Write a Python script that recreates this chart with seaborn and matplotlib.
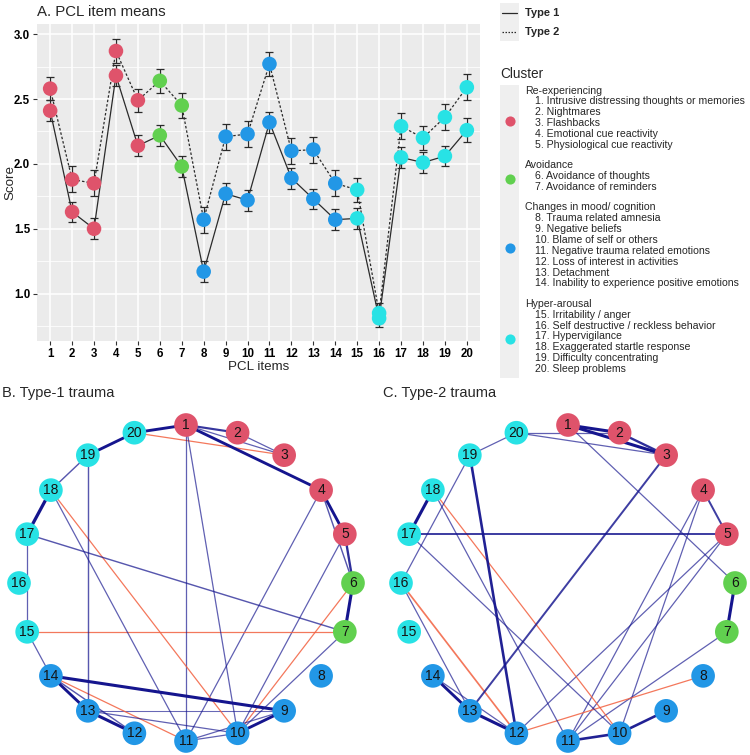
import numpy as np
import pandas as pd
import matplotlib
matplotlib.use("Agg")
import matplotlib.pyplot as plt
import seaborn as sns
from matplotlib.lines import Line2D
from matplotlib.patches import Rectangle

# ---------------- data ----------------
items = list(range(1, 21))
item_cluster = ["Re-experiencing"] * 5 + ["Avoidance"] * 2 + \
    ["Changes in mood/ cognition"] * 7 + ["Hyper-arousal"] * 6

type1_means = [2.41, 1.63, 1.50, 2.68, 2.14, 2.22, 1.98, 1.17, 1.77, 1.72,
               2.32, 1.89, 1.73, 1.57, 1.58, 0.81, 2.05, 2.01, 2.06, 2.26]
type2_means = [2.58, 1.88, 1.85, 2.87, 2.49, 2.64, 2.45, 1.57, 2.21, 2.23,
               2.77, 2.10, 2.11, 1.85, 1.80, 0.85, 2.29, 2.20, 2.36, 2.59]
type1_se = [0.08, 0.08, 0.08, 0.08, 0.08, 0.08, 0.08, 0.08, 0.08, 0.08,
            0.08, 0.08, 0.08, 0.08, 0.08, 0.07, 0.08, 0.08, 0.08, 0.09]
type2_se = [0.09, 0.10, 0.10, 0.09, 0.09, 0.09, 0.10, 0.10, 0.10, 0.10,
            0.09, 0.10, 0.10, 0.10, 0.09, 0.08, 0.10, 0.09, 0.10, 0.10]

cluster_names = ["Re-experiencing", "Avoidance", "Changes in mood/ cognition", "Hyper-arousal"]
cluster_colors = ["#DF536B", "#61D04F", "#2297E6", "#28E2E5"]
item_labels = [
    "1. Intrusive distressing thoughts or memories", "2. Nightmares", "3. Flashbacks",
    "4. Emotional cue reactivity", "5. Physiological cue reactivity",
    "6. Avoidance of thoughts", "7. Avoidance of reminders",
    "8. Trauma related amnesia", "9. Negative beliefs", "10. Blame of self or others",
    "11. Negative trauma related emotions", "12. Loss of interest in activities",
    "13. Detachment", "14. Inability to experience positive emotions",
    "15. Irritability / anger", "16. Self destructive / reckless behavior",
    "17. Hypervigilance", "18. Exaggerated startle response",
    "19. Difficulty concentrating", "20. Sleep problems",
]

# network edges: (node a, node b, weight); negative = red
type1_edges = [(1, 20, 0.28), (1, 2, 0.20), (1, 3, 0.10), (2, 3, 0.10), (3, 20, -0.10),
               (1, 4, 0.28), (4, 5, 0.28), (4, 6, 0.12), (5, 6, 0.22), (6, 7, 0.30),
               (4, 11, 0.10), (5, 10, 0.10), (6, 10, -0.10), (7, 10, 0.10), (7, 17, 0.12),
               (7, 15, -0.10), (1, 11, 0.10), (1, 10, 0.10), (19, 20, 0.28), (18, 19, 0.12),
               (17, 18, 0.32), (15, 17, 0.10), (14, 15, 0.10), (13, 19, 0.12), (11, 18, 0.10),
               (10, 18, -0.10), (9, 14, 0.30), (13, 14, 0.28), (12, 14, 0.12), (11, 14, -0.10),
               (12, 13, 0.30), (10, 13, 0.10), (9, 13, 0.08), (9, 10, 0.28), (9, 11, 0.10),
               (10, 11, 0.10)]
type2_edges = [(1, 2, 0.30), (1, 3, 0.30), (2, 3, 0.22), (3, 20, 0.10), (2, 20, 0.10),
               (19, 20, 0.10), (1, 6, 0.10), (3, 13, 0.18), (4, 5, 0.18), (4, 11, 0.10),
               (4, 10, 0.10), (5, 17, 0.18), (5, 12, 0.10), (5, 11, 0.10), (6, 7, 0.30),
               (7, 11, 0.10), (8, 12, -0.10), (9, 10, 0.25), (10, 11, 0.25), (17, 18, 0.30),
               (10, 17, 0.10), (11, 18, 0.10), (10, 18, -0.10), (12, 19, 0.25), (16, 19, 0.10),
               (12, 16, -0.15), (13, 16, 0.10), (13, 14, 0.28), (12, 14, 0.10), (12, 13, 0.30)]

# ---------------- setup ----------------
sns.set_style("white")
plt.rcParams["font.family"] = ["Liberation Sans", "DejaVu Sans"]

W, H = 750, 755
fig = plt.figure(figsize=(W / 100, H / 100), dpi=100)


def fx(px):
    return px / W


def fy(py):
    return 1 - py / H


palette = dict(zip(cluster_names, cluster_colors))

# ---------------- Panel A ----------------
axA = fig.add_axes([fx(37), fy(341), (480 - 37) / W, (341 - 24) / H])
df = pd.DataFrame({
    "item": items * 2,
    "score": type1_means + type2_means,
    "se": type1_se + type2_se,
    "type": ["Type 1"] * 20 + ["Type 2"] * 20,
    "cluster": item_cluster * 2,
})
axA.set_facecolor("#EBEBEB")
for s in axA.spines.values():
    s.set_visible(False)
sns.lineplot(data=df, x="item", y="score", style="type",
             dashes={"Type 1": "", "Type 2": (2, 1.6)}, color="#2a2a2a",
             linewidth=0.9, estimator=None, legend=False, ax=axA, zorder=2)
axA.errorbar(df["item"], df["score"], yerr=df["se"], fmt="none", ecolor="#2a2a2a",
             elinewidth=0.9, capsize=2.8, capthick=0.9, zorder=3)
sns.scatterplot(data=df, x="item", y="score", hue="cluster", palette=palette,
                s=110, linewidth=0, legend=False, ax=axA, zorder=4)
axA.set_xlim(0.4, 20.6)
axA.set_ylim(0.635, 3.078)
axA.set_xticks(items)
axA.set_yticks([1.0, 1.5, 2.0, 2.5, 3.0])
axA.set_yticks([0.75, 1.25, 1.75, 2.25, 2.75], minor=True)
axA.set_yticklabels(["1.0", "1.5", "2.0", "2.5", "3.0"], fontweight="bold")
axA.set_xticklabels([str(i) for i in items], fontweight="bold")
axA.grid(True, which="major", color="white", linewidth=1.1)
axA.grid(True, which="minor", axis="y", color="white", linewidth=0.55)
axA.set_axisbelow(True)
axA.tick_params(axis="both", which="major", length=3, width=0.8, color="#333333",
                labelsize=8.3, labelcolor="black", pad=2, left=True, bottom=True)
axA.tick_params(axis="y", which="minor", length=0)
axA.set_xlabel("PCL items", fontsize=9.6, labelpad=1)
axA.set_ylabel("Score", fontsize=9.6)
axA.yaxis.set_label_coords((16 - 37) / 443, 0.5)
fig.text(fx(37), fy(12), "A. PCL item means", fontsize=10.8, ha="left", va="center")

# ---------------- Legend ----------------
key_bg = "#EFEFEF"
fig.add_artist(Rectangle((fx(500), fy(41)), 19 / W, 38 / H, transform=fig.transFigure,
                         facecolor=key_bg, edgecolor="none"))
for ty, ls, lab in [(13, "-", "Type 1"), (32, (0, (1.2, 1.2)), "Type 2")]:
    fig.add_artist(Line2D([fx(502), fx(517)], [fy(ty), fy(ty)], transform=fig.transFigure,
                          color="#2a2a2a", linewidth=0.9, linestyle=ls))
    fig.text(fx(525), fy(ty), lab, fontsize=8, fontweight="bold", ha="left", va="center")

fig.text(fx(500), fy(74), "Cluster", fontsize=9.8, ha="left", va="center")

line_h = 10.85
block_gap = 20.5
y = 90.5
key_top = 85
for ci, (cname, ccol) in enumerate(zip(cluster_names, cluster_colors)):
    labs = [item_labels[i] for i in range(20) if item_cluster[i] == cname]
    y0 = y
    fig.text(fx(525), fy(y), cname, fontsize=7.6, ha="left", va="center")
    for lab in labs:
        y += line_h
        fig.text(fx(535), fy(y), lab, fontsize=7.6, ha="left", va="center")
    y_end = y
    y_center = (y0 + y_end) / 2 + 3
    key_bottom = y_end + block_gap / 2 if ci < 3 else 378
    fig.add_artist(Rectangle((fx(500), fy(key_bottom)), 19 / W, (key_bottom - key_top) / H,
                             transform=fig.transFigure, facecolor=key_bg, edgecolor="none"))
    fig.add_artist(Line2D([fx(509.5)], [fy(y_center)], transform=fig.transFigure,
                          marker="o", markersize=7.3, color=ccol, markeredgewidth=0,
                          linestyle="none"))
    key_top = key_bottom
    y = y_end + block_gap

# ---------------- Networks ----------------
angles = np.deg2rad(90 - (np.array(items) - 1) * 18)
node_df = pd.DataFrame({"node": items, "x": np.cos(angles), "y": np.sin(angles),
                        "cluster": item_cluster})


def draw_network(ax, edges, title, title_x):
    ax.set_axis_off()
    pos = {n: (x, yy) for n, x, yy in zip(node_df["node"], node_df["x"], node_df["y"])}
    for a, b, w in sorted(edges, key=lambda e: abs(e[2])):
        col = "#15158e" if w > 0 else "#f2603f"
        lw = 0.25 + 6.5 * abs(w)
        alpha = min(1.0, 0.5 + 1.8 * abs(w)) if w > 0 else 0.85
        ax.plot([pos[a][0], pos[b][0]], [pos[a][1], pos[b][1]], color=col,
                linewidth=lw, alpha=alpha, solid_capstyle="round", zorder=1)
    sns.scatterplot(data=node_df, x="x", y="y", hue="cluster", palette=palette,
                    s=290, linewidth=0, legend=False, ax=ax, zorder=3)
    for n, x, yy in zip(node_df["node"], node_df["x"], node_df["y"]):
        ax.text(x, yy, str(n), fontsize=10, ha="center", va="center",
                color="#151515", zorder=4)
    ax.set_xlabel("")
    ax.set_ylabel("")
    fig.text(fx(title_x), fy(393), title, fontsize=10.5, ha="left", va="center")


axB = fig.add_axes([0, 0, 372 / W, 350 / H])
axB.set_xlim(-186 / 167, 186 / 167)
axB.set_ylim(-(755 - 583) / 158, (583 - 405) / 158)
draw_network(axB, type1_edges, "B. Type-1 trauma", 2)

axC = fig.add_axes([382 / W, 0, 368 / W, 350 / H])
axC.set_xlim(-(568 - 382) / 167, (750 - 568) / 167)
axC.set_ylim(-(755 - 583) / 158, (583 - 405) / 158)
draw_network(axC, type2_edges, "C. Type-2 trauma", 383)

fig.savefig("out.png", dpi=100)
